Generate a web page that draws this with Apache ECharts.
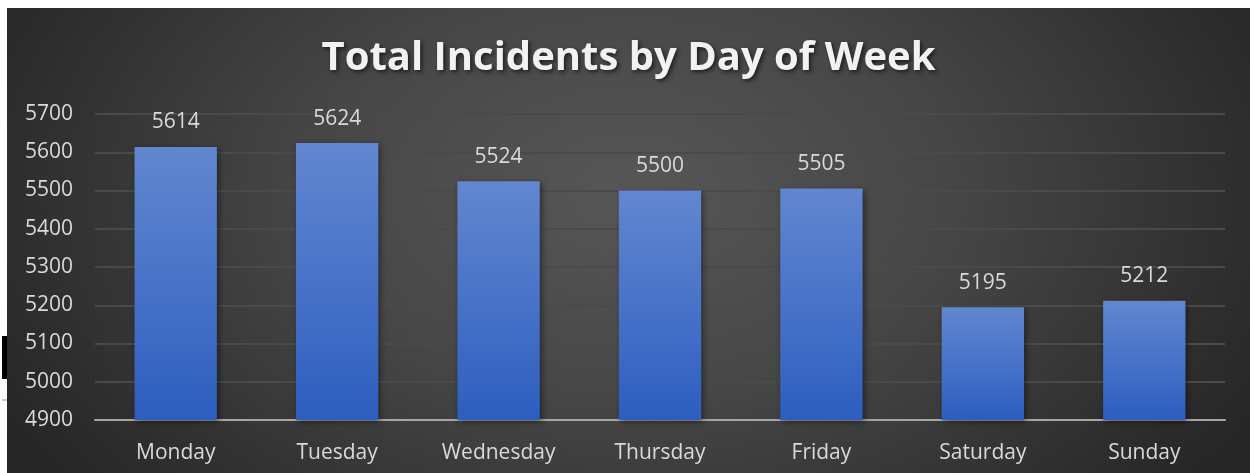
<!DOCTYPE html>
<html>
<head>
<meta charset="utf-8">
<script src="https://cdn.jsdelivr.net/npm/echarts@6/dist/echarts.min.js"></script>
<style>
html,body{margin:0;padding:0;background:#fff;width:1250px;height:473px;overflow:hidden;position:relative;}
#chart{position:absolute;left:7px;top:8px;width:1243px;height:465px;
  background:radial-gradient(ellipse 58% 100% at 50% 40%, #575757 0%, #464646 45%, #2b2b2b 90%, #262626 100%);}
#mark1{position:absolute;left:2px;top:336px;width:6px;height:43px;background:#000;}
#mark2{position:absolute;left:2px;top:399px;width:6px;height:2px;background:#ccc;}
</style>
</head>
<body>
<div id="mark1"></div>
<div id="mark2"></div>
<div id="chart"></div>
<script>
const titleText = 'Total Incidents by Day of Week';
const categories = ['Monday','Tuesday','Wednesday','Thursday','Friday','Saturday','Sunday'];
const incidents = [5614, 5624, 5524, 5500, 5505, 5195, 5212];
const yMin = 4900, yMax = 5700, yStep = 100;

const chart = echarts.init(document.getElementById('chart'));
chart.setOption({
  backgroundColor: 'transparent',
  animation: false,
  title: {
    text: titleText,
    left: 'center',
    top: 26,
    textStyle: {
      fontFamily: 'Open Sans',
      fontWeight: 'bold',
      fontSize: 40,
      color: '#f2f2f2',
      textShadowColor: 'rgba(0,0,0,0.6)',
      textShadowBlur: 4,
      textShadowOffsetX: 2,
      textShadowOffsetY: 2
    }
  },
  grid: {left: 88, right: 25, top: 106, bottom: 53, containLabel: false},
  xAxis: {
    type: 'category',
    data: categories,
    axisLine: {lineStyle: {color: '#a6a6a6', width: 2}},
    axisTick: {show: false},
    axisLabel: {color: '#d9d9d9', fontFamily: 'Open Sans', fontSize: 21, margin: 23}
  },
  yAxis: {
    type: 'value',
    min: yMin, max: yMax, interval: yStep,
    axisLine: {show: false},
    axisTick: {show: false},
    splitLine: {lineStyle: {color: '#4a4a4a', width: 2}},
    axisLabel: {color: '#d9d9d9', fontFamily: 'Open Sans', fontSize: 21, align: 'left', margin: 70,
      formatter: function (v) { return String(v); }}
  },
  series: [{
    type: 'bar',
    data: incidents,
    barWidth: '51%',
    itemStyle: {
      color: {
        type: 'linear', x: 0, y: 0, x2: 0, y2: 1,
        colorStops: [
          {offset: 0, color: '#6287d0'},
          {offset: 1, color: '#2d5ebf'}
        ]
      },
      shadowColor: 'rgba(0,0,0,0.45)',
      shadowBlur: 6,
      shadowOffsetX: 2,
      shadowOffsetY: 2
    },
    label: {
      show: true,
      position: 'top',
      distance: 14,
      color: '#d9d9d9',
      fontFamily: 'Open Sans',
      fontSize: 21
    }
  }]
});
</script>
</body>
</html>
